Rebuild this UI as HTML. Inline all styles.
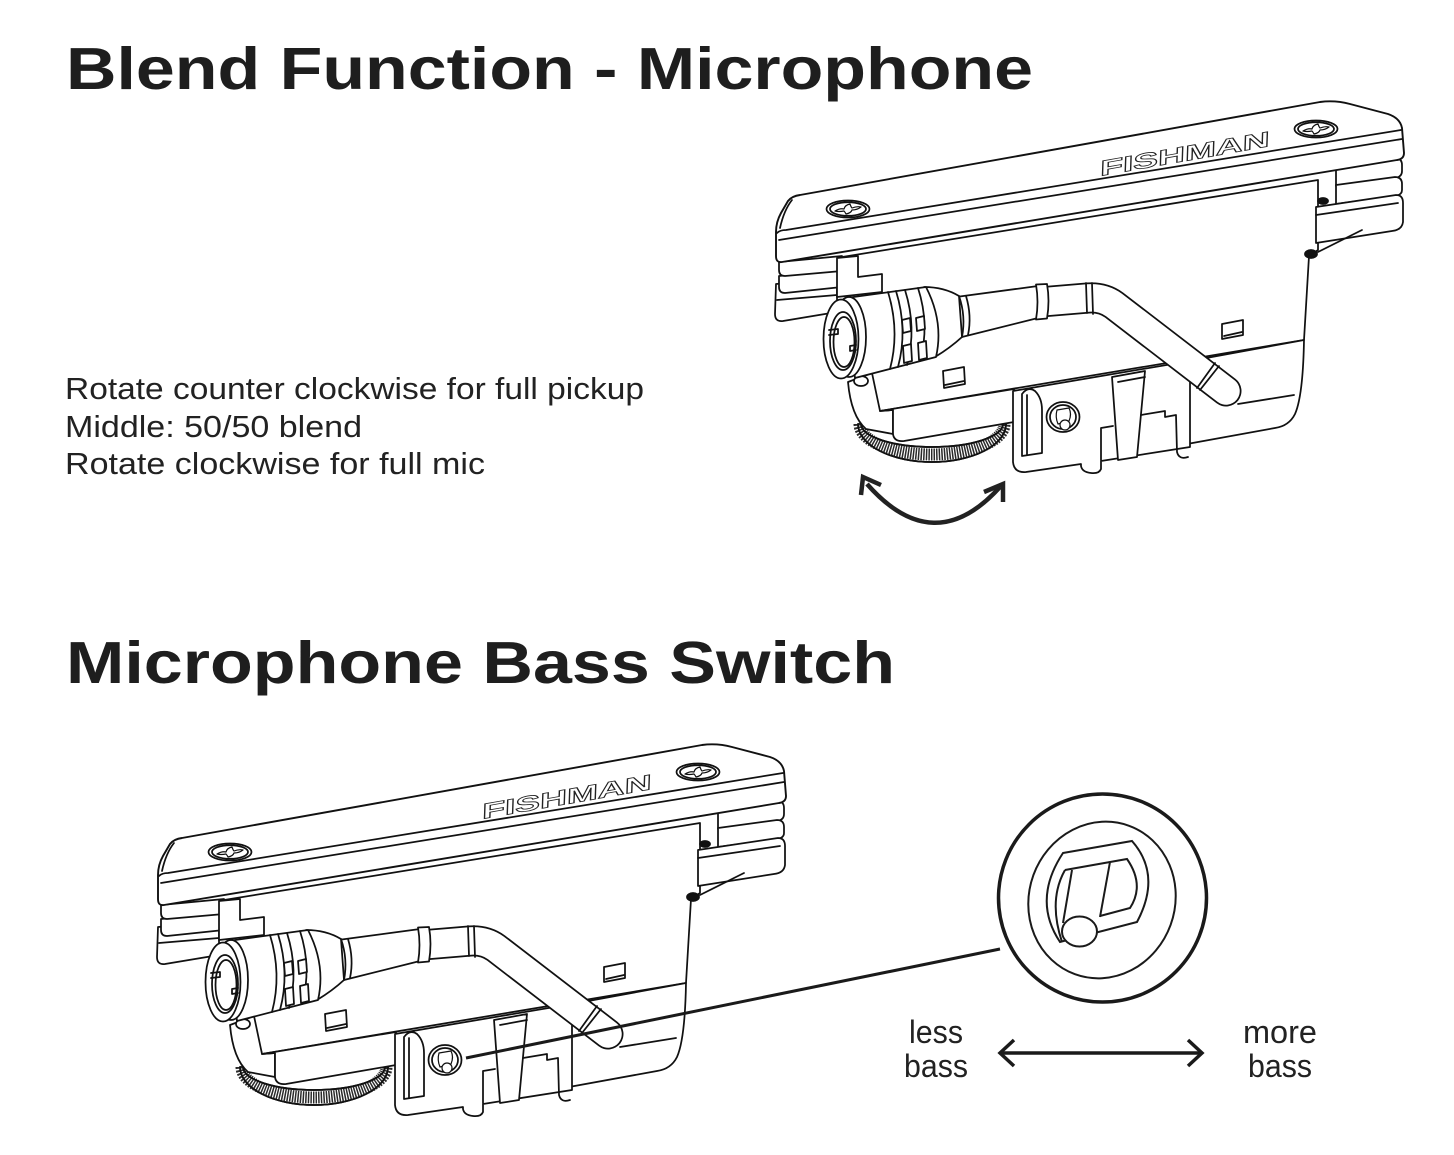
<!DOCTYPE html>
<html><head><meta charset="utf-8">
<style>html,body{margin:0;padding:0;background:#fff}svg{display:block}</style>
</head>
<body>
<svg xmlns="http://www.w3.org/2000/svg" xmlns:xlink="http://www.w3.org/1999/xlink" width="1454" height="1155" viewBox="0 0 1454 1155">
<rect width="1454" height="1155" fill="#fff"/>
<defs>
<g id="screw">
  <ellipse cx="0" cy="0" rx="21.5" ry="8.5"/>
  <ellipse cx="0" cy="0" rx="18" ry="6.8" fill="none"/>
  <path d="M-13,2 Q-8,-1 -4,0 Q-3,-4 2,-5 Q3,-2 4,-1 Q9,-3 13,-2 Q9,1 4,1 Q3,4 -2,5 Q-3,3 -4,2 Q-9,3 -13,2 Z" stroke-width="1.2"/>
</g>
<g id="pk" fill="#fff" stroke="#111" stroke-width="1.75" stroke-linejoin="round" stroke-linecap="round">
  <!-- housing upper face -->
  <path d="M836,258 L1318,180 L1318,250 L1309,256 L1304,340 L880,411 L870,372 L850,295 Z"/>
  <!-- right fins -->
  <path d="M1336,166 L1395,158 Q1402,158 1402,165 L1402,171 Q1402,177 1395,178 L1336,186 Z"/>
  <path d="M1336,185 L1395,177 Q1402,177 1402,184 L1402,190 Q1402,195 1395,196 L1336,204 Z"/>
  <path d="M1316,207 L1396,195 Q1403,195 1403,203 L1403,222 Q1402,230 1392,231 L1316,243 Z"/>
  <path d="M1316,215 L1398,203" fill="none"/>
  <path d="M1362,230 L1318,252" fill="none"/>
  <!-- lower right block -->
  <path d="M1190,361 L1304,340 Q1303,396 1295,414 Q1289,426 1275,428 L1187,444 Z"/>
  <path d="M1238,404 L1294,395" fill="none"/>
  <!-- knob -->
  <path d="M858,424 A74,38 0 0 0 1006,424 L1003,424 A71,23 0 0 1 861,424 Z"/>
  <path d="M859.5,424 A72.5,30.5 0 0 0 1004.5,424" fill="none" stroke="#2a2a2a" stroke-width="12" stroke-dasharray="1.5 1.1" stroke-linecap="butt"/>
  <path d="M858,424 A74,38 0 0 0 1006,424" fill="none"/>
  <path d="M861,424 A71,23 0 0 0 1003,424" fill="none"/>
  <!-- lower left block -->
  <path d="M848,382 L872,373 L880,411 L893,410 L893,434 L866,429 Q851,416 848,382 Z"/>
  <path d="M880,411 L1014,389 L1014,422 L904,441 Q894,442 893,434 L893,410 Z"/>
  <!-- plate -->
  <path d="M1013,391 L1190,361 L1190,447 L1101,461 L1101,469 Q1099,474 1091,473 Q1082,472 1081,466 L1081,464 L1026,472 Q1014,473 1013,462 Z"/>
  <path d="M1022,456 L1022,394 Q1028,386 1035,391 Q1042,398 1042,410 L1042,453 Z"/>
  <path d="M1027,395 L1027,455" fill="none"/>
  <path d="M1112,377 L1145,371 L1137,457 L1118,460 Z"/>
  <path d="M1118,382 L1145,377" fill="none"/>
  <path d="M1101,460 L1101,428 L1113,426" fill="none"/>
  <path d="M1141,415 L1165,411 L1165,417 L1176,415 L1177,452 Q1179,460 1188,457" fill="none"/>
  <ellipse cx="1063" cy="417" rx="16.5" ry="15"/>
  <ellipse cx="1063" cy="417" rx="13" ry="12" fill="none"/>
  <path d="M1057,410 L1069,408 Q1072,414 1069,421 L1058,424 Q1055,417 1057,410 Z" stroke-width="1.2"/>
  <circle cx="1065" cy="425" r="5" stroke-width="1.2"/>
  <!-- windows -->
  <path d="M943,371 L964,367 L965,384 L944,388 Z"/>
  <path d="M945,385 L964,381" fill="none"/>
  <path d="M1222,324 L1243,320 L1243,335 L1222,339 Z"/>
  <path d="M1224,336 L1242,332" fill="none"/>
  <!-- left fins & post -->
  <path d="M776,284 L837,279 L837,312 L783,321 Q775,322 775,314 Z"/>
  <path d="M777,300 L837,295" fill="none"/>
  <path d="M779,276 L842,270 L842,287 L785,293 Q779,293 779,287 Z"/>
  <path d="M779,262 L842,256 L842,271 L785,276 Q779,276 779,270 Z"/>
  <path d="M837,258 L858,256 L858,277 L882,274 L882,292 L837,297 Z"/>
  <!-- lid -->
  <path d="M776,232 Q776,222 781,213 L788,201 Q792,196 800,195 L1320,102 Q1335,100 1350,104 L1388,114 Q1400,118 1402,128 L1404,153 Q1404,159 1397,160 L782,262 Q776,263 776,256 Z" stroke-width="1.9"/>
  <path d="M777,233 Q780,230 786,230 L1401,130" fill="none"/>
  <path d="M779,240 L1402,139" fill="none"/>
  <path d="M792,200 Q784,210 780,228" fill="none"/>
  <use href="#screw" xlink:href="#screw" transform="translate(848,209)"/>
  <use href="#screw" xlink:href="#screw" transform="translate(1316,129)"/>
  <!-- bent tube -->
  <path d="M1040,302 L1088,298 Q1103,297 1114,305 L1226,391" fill="none" stroke="#111" stroke-width="31"/>
  <path d="M1040,302 L1088,298 Q1103,297 1114,305 L1226,391" fill="none" stroke="#fff" stroke-width="27.5"/>
  <path d="M1215,363 L1197,388" fill="none"/>
  <path d="M1219,366 L1200,390" fill="none"/>
  <path d="M1086,283 L1087,313" fill="none"/>
  <path d="M1092,283 L1093,314" fill="none"/>
  <!-- tube1 and collar -->
  <path d="M956,297 L1038,286 L1038,318 L962,337 Z"/>
  <path d="M1036,284.5 L1047,284 Q1050,301 1047,318.5 L1036,319.5 Q1039,302 1036,284.5 Z"/>
  <!-- cone -->
  <path d="M924,287 Q944,287 959,296 L962,337 Q950,348 935,357 Z"/>
  <path d="M959,296 Q966,316 962,337" fill="none"/>
  <path d="M966,296 Q972,316 968,335" fill="none"/>
  <!-- bump -->
  <ellipse cx="861" cy="381" rx="7" ry="5"/>
  <!-- body -->
  <path d="M846,298 L926,287 Q944,322 936,357 L855,378 Z"/>
  <path d="M888,292 Q900,331 890,369" fill="none"/>
  <path d="M896,291 Q908,330 898,367" fill="none"/>
  <path d="M905,290 Q917,328 907,365" fill="none"/>
  <path d="M918,288 Q930,325 920,361" fill="none"/>
  <path d="M902,320 L910,318 L911,331 L903,333 Z"/>
  <path d="M916,318 L924,316 L925,329 L917,331 Z"/>
  <path d="M903,346 L911,344 L912,361 L904,363 Z"/>
  <path d="M918,343 L926,341 L927,358 L919,360 Z"/>
  <!-- rim -->
  <ellipse cx="849" cy="337" rx="17" ry="40"/>
  <ellipse cx="841" cy="339" rx="17.5" ry="39.5"/>
  <ellipse cx="843" cy="341" rx="13" ry="29" fill="none"/>
  <ellipse cx="844" cy="342" rx="10.5" ry="25" fill="none"/>
  <path d="M829,330 L838,329 L838,334 L829,335" fill="none"/>
  <path d="M856,345 L850,346 L850,351 L856,350" fill="none"/>
  <!-- blobs -->
  <ellipse cx="1323" cy="201" rx="5" ry="3" fill="#111"/>
  <ellipse cx="1311" cy="254" rx="6" ry="4" fill="#111"/>
</g>
</defs>

<!-- Headings -->
<text x="66" y="89" font-family="Liberation Sans, Arial, sans-serif" font-weight="bold" font-size="59" textLength="967" lengthAdjust="spacingAndGlyphs" fill="#1e1e1e">Blend Function - Microphone</text>
<text x="66" y="683" font-family="Liberation Sans, Arial, sans-serif" font-weight="bold" font-size="59" textLength="829" lengthAdjust="spacingAndGlyphs" fill="#1e1e1e">Microphone Bass Switch</text>

<!-- Body text -->
<g font-family="Liberation Sans, Arial, sans-serif" font-size="31" fill="#222">
  <text x="65" y="399" textLength="579" lengthAdjust="spacingAndGlyphs">Rotate counter clockwise for full pickup</text>
  <text x="65" y="437" textLength="297" lengthAdjust="spacingAndGlyphs">Middle: 50/50 blend</text>
  <text x="65" y="474" textLength="420" lengthAdjust="spacingAndGlyphs">Rotate clockwise for full mic</text>
</g>

<!-- Top pickup -->
<use href="#pk" xlink:href="#pk"/>
<text transform="translate(1100,176) rotate(-10) skewX(-12)" font-family="Liberation Sans, Arial, sans-serif" font-weight="bold" font-size="21" fill="#fff" stroke="#222" stroke-width="0.8" textLength="172" lengthAdjust="spacingAndGlyphs">FISHMAN</text>

<!-- Top rotation arrow -->
<g fill="none" stroke="#222" stroke-width="4.5" stroke-linecap="butt" stroke-linejoin="miter">
  <path d="M867,484 Q934,560 1000,487"/>
  <path d="M881,485 L863,477 L861,495"/>
  <path d="M984,492 L1003,484 L1003,502"/>
</g>

<!-- Bottom pickup -->
<use href="#pk" xlink:href="#pk" transform="translate(-618,643)"/>
<text transform="translate(482,819) rotate(-10) skewX(-12)" font-family="Liberation Sans, Arial, sans-serif" font-weight="bold" font-size="21" fill="#fff" stroke="#222" stroke-width="0.8" textLength="172" lengthAdjust="spacingAndGlyphs">FISHMAN</text>

<!-- Callout -->
<g fill="none" stroke="#1a1a1a">
  <line x1="466" y1="1058" x2="1000" y2="949" stroke-width="3"/>
  <circle cx="1102.5" cy="898" r="104" stroke-width="3.5" fill="#fff"/>
  <ellipse cx="1102" cy="900" rx="73" ry="79" transform="rotate(20 1102 900)" stroke-width="2"/>
  <path d="M1063,853 L1132,841 Q1162,875 1137,922 L1060,942 Q1032,900 1063,853 Z" stroke-width="2"/>
  <path d="M1065,870 L1127,859 Q1145,885 1130,908 L1100,916" stroke-width="2"/>
  <path d="M1065,870 Q1048,900 1062,942" stroke-width="2"/>
  <path d="M1072,870 L1063,923" stroke-width="2"/>
  <path d="M1110,862 L1100,917" stroke-width="2"/>
  <ellipse cx="1079.5" cy="931.5" rx="17.5" ry="15" fill="#fff" stroke-width="2"/>
</g>

<!-- less / more bass -->
<g fill="none" stroke="#1a1a1a" stroke-width="3.5" stroke-linecap="butt" stroke-linejoin="miter">
  <line x1="1001" y1="1053" x2="1201" y2="1053"/>
  <path d="M1014,1040 L1000,1053 L1014,1066"/>
  <path d="M1188,1040 L1202,1053 L1188,1066"/>
</g>
<g font-family="Liberation Sans, Arial, sans-serif" font-size="32" fill="#222">
  <text x="909" y="1043" textLength="54" lengthAdjust="spacingAndGlyphs">less</text>
  <text x="904" y="1077" textLength="64" lengthAdjust="spacingAndGlyphs">bass</text>
  <text x="1243" y="1043" textLength="74" lengthAdjust="spacingAndGlyphs">more</text>
  <text x="1248" y="1077" textLength="64" lengthAdjust="spacingAndGlyphs">bass</text>
</g>
</svg>
</body></html>
